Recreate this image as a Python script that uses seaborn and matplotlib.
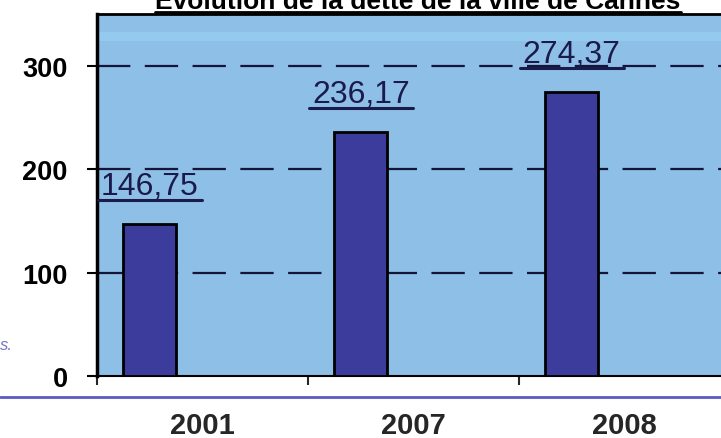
import seaborn as sns
import matplotlib.pyplot as plt
import pandas as pd
from matplotlib.lines import Line2D

years = ["2001", "2007", "2008"]
dette = [146.75, 236.17, 274.37]
y_ticks = [0, 100, 200, 300]
titre = "Évolution de la dette de la ville de Cannes"

df = pd.DataFrame({"annee": years, "dette": dette})

sns.set_style("white")
plt.rcParams["font.family"] = ["Liberation Sans", "DejaVu Sans"]

fig = plt.figure(figsize=(7.21, 4.39), dpi=100)
ax = fig.add_axes([97 / 721, 62 / 439, 633 / 721, 362 / 439])
ax.set_facecolor("#8ebfe7")

sns.barplot(data=df, x="annee", y="dette", color="#3c3c9c", width=0.25,
            edgecolor="black", linewidth=2, saturation=1, ax=ax, zorder=3)
bars = list(ax.patches)
# bars sit left of the category centre, like the original
for p in bars:
    p.set_x(p.get_x() - 0.25)

ax.axhspan(324, 333, color="#93caee", lw=0, zorder=0)
for y in y_ticks[1:]:
    ax.axhline(y, color="#15153a", lw=1.6, ls=(0, (15, 6.5)), zorder=1)

ax.set_xlim(-0.5, 2.5)
ax.set_ylim(0, 350)
ax.set_yticks(y_ticks)
ax.set_yticklabels([str(v) for v in y_ticks], fontsize=19.5, fontweight="bold")
ax.set_xticks(range(len(years)))
ax.set_xticklabels(years, fontsize=21, fontweight="bold")
ax.set_xticks([-0.5, 0.5, 1.5, 2.5], minor=True)
ax.set_xlabel("")
ax.set_ylabel("")

ax.tick_params(axis="y", direction="out", length=7, width=1.5, pad=14, left=True, colors="black")
ax.tick_params(axis="x", which="major", length=0, pad=25)
ax.tick_params(axis="x", which="minor", direction="out", length=6.5, width=1.5, bottom=True)

ax.spines["right"].set_visible(False)
ax.spines["left"].set_linewidth(2.5)
ax.spines["top"].set_linewidth(2)
ax.spines["bottom"].set_linewidth(1.5)
for s in ["left", "top", "bottom"]:
    ax.spines[s].set_color("black")

labels = []
for p, v in zip(bars, dette):
    cx = p.get_x() + p.get_width() / 2
    t = ax.text(cx, v + 29, f"{v:.2f}".replace(".", ","), ha="center", va="baseline",
                fontsize=23, color="#1b1b4b", zorder=4)
    labels.append((t, cx, v + 29))

t_title = fig.text(418 / 721, 1 - 9 / 439, titre, ha="center", va="baseline",
                   fontsize=19, fontweight="bold", color="black")
fig.text(0.0, 1 - 346 / 439, "s.", color="#7676c6", style="italic", fontsize=12, va="center")

fig.canvas.draw()
inv = fig.transFigure.inverted()
for t, cx, yb in labels:
    bb = t.get_window_extent()
    base = ax.transData.transform((cx, yb))[1]
    (x0, y0) = inv.transform((bb.x0 - 3, base - 6))
    (x1, _) = inv.transform((bb.x1 + 3, base - 6))
    fig.add_artist(Line2D([x0, x1], [y0, y0], transform=fig.transFigure,
                          color="#1b1b4b", lw=2.2, zorder=5))

bb = t_title.get_window_extent()
(x0, _) = inv.transform((bb.x0, 0))
(x1, _) = inv.transform((bb.x1, 0))
fig.add_artist(Line2D([x0, x1], [1 - 13 / 439] * 2, transform=fig.transFigure, color="black", lw=2))

fig.add_artist(Line2D([0, 1], [1 - 398 / 439] * 2, transform=fig.transFigure, color="#5b5bc2", lw=2))

fig.savefig("out.png", dpi=100)
